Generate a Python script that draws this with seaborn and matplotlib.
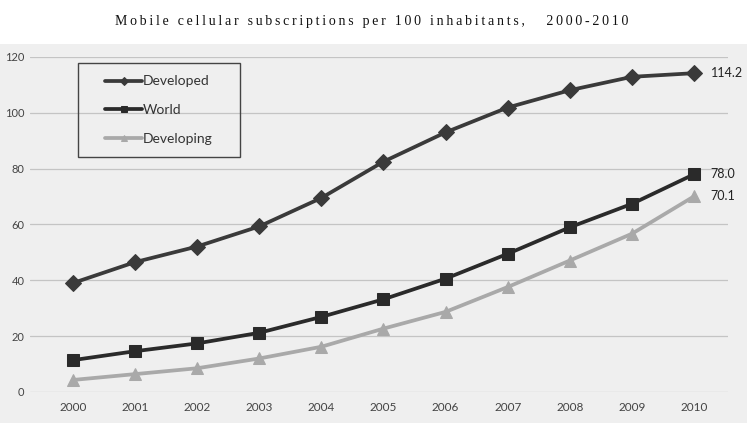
import numpy as np
import pandas as pd
import matplotlib
matplotlib.use("Agg")
import matplotlib.pyplot as plt
import seaborn as sns
from matplotlib.patches import Rectangle

years = [2000, 2001, 2002, 2003, 2004, 2005, 2006, 2007, 2008, 2009, 2010]
developed = [39.0, 46.5, 52.1, 59.3, 69.5, 82.5, 93.0, 101.9, 108.1, 112.9, 114.2]
world = [11.4, 14.6, 17.4, 21.2, 26.9, 33.2, 40.6, 49.5, 59.0, 67.4, 78.0]
developing = [4.3, 6.4, 8.5, 12.0, 16.2, 22.7, 28.7, 37.6, 47.1, 56.7, 70.1]
series_names = ["Developed", "World", "Developing"]
end_labels = ["114.2", "78.0", "70.1"]
title = "Mobile cellular subscriptions per 100 inhabitants,   2000-2010"

df = pd.DataFrame({
    "year": years * 3,
    "value": developed + world + developing,
    "series": [s for s in series_names for _ in years],
})

sns.set_style("white")
plt.rcParams["font.family"] = ["Lato", "DejaVu Sans"]

fig = plt.figure(figsize=(7.47, 4.23), dpi=100)
fig.patch.set_facecolor("white")
# scanned page tint
fig.patches.append(Rectangle((0, 0), 1, 0.895, transform=fig.transFigure,
                             facecolor="#efefef", edgecolor="none", zorder=-10))
ax = fig.add_axes([0.040, 0.0733, 0.935, 0.792])
ax.set_facecolor("none")

palette = {"Developed": "#3a3a3a", "World": "#2a2a2a", "Developing": "#a9a9a9"}
markers = {"Developed": "D", "World": "s", "Developing": "^"}
sns.lineplot(data=df, x="year", y="value", hue="series", style="series",
             palette=palette, markers=markers, dashes=False, ax=ax,
             linewidth=2.7, markersize=8, markeredgecolor=None)
for line in ax.get_lines():
    line.set_markeredgecolor(line.get_color())

ax.set_xlim(1999.31, 2010.55)
ax.set_ylim(0, 120)
ax.set_xticks(years)
ax.set_yticks(range(0, 121, 20))
ax.set_xlabel("")
ax.set_ylabel("")
ax.grid(axis="y", color="#c4c4c4", linewidth=0.9)
for s in ax.spines.values():
    s.set_visible(False)
ax.tick_params(axis="both", length=0, labelsize=8.5, labelcolor="#444444")
ax.tick_params(axis="y", pad=4, labelsize=8)
ax.tick_params(axis="x", pad=7)

for vals, lab in zip([developed, world, developing], end_labels):
    ax.annotate(lab, (years[-1], vals[-1]), xytext=(12, 0), textcoords="offset points",
                va="center", ha="left", fontsize=9, color="#222222",
                annotation_clip=False)

# legend box drawn separately, legend entries placed inside it
ax.add_patch(Rectangle((0.069, 0.701), 0.232, 0.281, transform=ax.transAxes,
                       facecolor="none", edgecolor="#444444", linewidth=1.0,
                       zorder=3))
leg = ax.legend(loc="upper left", bbox_to_anchor=(0.1075, 0.945), frameon=False,
                fontsize=10, handlelength=2.7, labelspacing=1.2,
                borderpad=0, borderaxespad=0, handletextpad=0.05,
                markerscale=0.55)
for t in leg.get_texts():
    t.set_color("#333333")

fig.text(0.497, 0.948, "\u2009".join(title), ha="center", va="center",
         fontsize=10, family=["Liberation Serif", "DejaVu Serif"], color="#111111")

fig.savefig("out.png", dpi=100)
